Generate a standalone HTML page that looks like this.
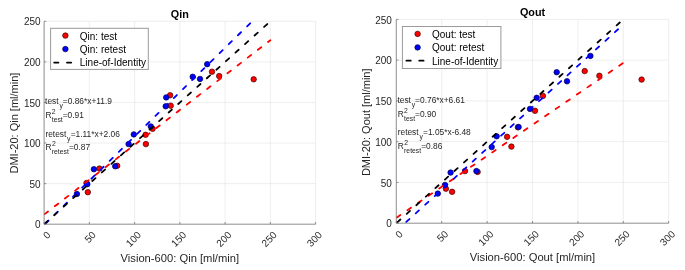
<!DOCTYPE html><html><head><meta charset="utf-8"><style>html,body{margin:0;padding:0;background:#fff;width:685px;height:270px;overflow:hidden}svg{display:block;will-change:transform}text{font-family:"Liberation Sans",sans-serif}</style></head><body>
<svg width="685" height="270" viewBox="0 0 685 270">
<rect width="685" height="270" fill="#fff"/>
<line x1="44.10" y1="224.20" x2="44.10" y2="21.30" stroke="#e6e6e6" stroke-width="0.7"/>
<line x1="89.35" y1="224.20" x2="89.35" y2="21.30" stroke="#e6e6e6" stroke-width="0.7"/>
<line x1="134.60" y1="224.20" x2="134.60" y2="21.30" stroke="#e6e6e6" stroke-width="0.7"/>
<line x1="179.85" y1="224.20" x2="179.85" y2="21.30" stroke="#e6e6e6" stroke-width="0.7"/>
<line x1="225.10" y1="224.20" x2="225.10" y2="21.30" stroke="#e6e6e6" stroke-width="0.7"/>
<line x1="270.35" y1="224.20" x2="270.35" y2="21.30" stroke="#e6e6e6" stroke-width="0.7"/>
<line x1="315.60" y1="224.20" x2="315.60" y2="21.30" stroke="#e6e6e6" stroke-width="0.7"/>
<line x1="44.10" y1="224.20" x2="315.60" y2="224.20" stroke="#e6e6e6" stroke-width="0.7"/>
<line x1="44.10" y1="183.62" x2="315.60" y2="183.62" stroke="#e6e6e6" stroke-width="0.7"/>
<line x1="44.10" y1="143.04" x2="315.60" y2="143.04" stroke="#e6e6e6" stroke-width="0.7"/>
<line x1="44.10" y1="102.46" x2="315.60" y2="102.46" stroke="#e6e6e6" stroke-width="0.7"/>
<line x1="44.10" y1="61.88" x2="315.60" y2="61.88" stroke="#e6e6e6" stroke-width="0.7"/>
<line x1="44.10" y1="21.30" x2="315.60" y2="21.30" stroke="#e6e6e6" stroke-width="0.7"/>
<circle cx="87.8" cy="192.2" r="2.75" fill="#ff0000" stroke="#400000" stroke-width="0.7"/>
<circle cx="86.5" cy="183.0" r="2.75" fill="#ff0000" stroke="#400000" stroke-width="0.7"/>
<circle cx="99.4" cy="168.6" r="2.75" fill="#ff0000" stroke="#400000" stroke-width="0.7"/>
<circle cx="117.2" cy="165.8" r="2.75" fill="#ff0000" stroke="#400000" stroke-width="0.7"/>
<circle cx="145.6" cy="134.8" r="2.75" fill="#ff0000" stroke="#400000" stroke-width="0.7"/>
<circle cx="145.9" cy="144.1" r="2.75" fill="#ff0000" stroke="#400000" stroke-width="0.7"/>
<circle cx="152.6" cy="128.8" r="2.75" fill="#ff0000" stroke="#400000" stroke-width="0.7"/>
<circle cx="170.1" cy="95.3" r="2.75" fill="#ff0000" stroke="#400000" stroke-width="0.7"/>
<circle cx="170.7" cy="105.7" r="2.75" fill="#ff0000" stroke="#400000" stroke-width="0.7"/>
<circle cx="212" cy="71.7" r="2.75" fill="#ff0000" stroke="#400000" stroke-width="0.7"/>
<circle cx="219.2" cy="76.1" r="2.75" fill="#ff0000" stroke="#400000" stroke-width="0.7"/>
<circle cx="253.7" cy="79.3" r="2.75" fill="#ff0000" stroke="#400000" stroke-width="0.7"/>
<circle cx="76.9" cy="194" r="2.75" fill="#0000ff" stroke="#000040" stroke-width="0.7"/>
<circle cx="87.3" cy="184.2" r="2.75" fill="#0000ff" stroke="#000040" stroke-width="0.7"/>
<circle cx="93.9" cy="169.2" r="2.75" fill="#0000ff" stroke="#000040" stroke-width="0.7"/>
<circle cx="115.2" cy="166.3" r="2.75" fill="#0000ff" stroke="#000040" stroke-width="0.7"/>
<circle cx="133.8" cy="134.4" r="2.75" fill="#0000ff" stroke="#000040" stroke-width="0.7"/>
<circle cx="128.6" cy="144.1" r="2.75" fill="#0000ff" stroke="#000040" stroke-width="0.7"/>
<circle cx="150.8" cy="126.4" r="2.75" fill="#0000ff" stroke="#000040" stroke-width="0.7"/>
<circle cx="166.2" cy="97.4" r="2.75" fill="#0000ff" stroke="#000040" stroke-width="0.7"/>
<circle cx="165.7" cy="106.3" r="2.75" fill="#0000ff" stroke="#000040" stroke-width="0.7"/>
<circle cx="192.7" cy="76.8" r="2.75" fill="#0000ff" stroke="#000040" stroke-width="0.7"/>
<circle cx="200" cy="78.9" r="2.75" fill="#0000ff" stroke="#000040" stroke-width="0.7"/>
<circle cx="207.2" cy="64.2" r="2.75" fill="#0000ff" stroke="#000040" stroke-width="0.7"/>
<clipPath id="cQin"><rect x="44.10" y="21.30" width="271.50" height="202.90"/></clipPath>
<g clip-path="url(#cQin)">
<line x1="44.1" y1="214.5" x2="270.4" y2="40.2" stroke="#ff0000" stroke-width="1.8" stroke-dasharray="4.3 8.52" stroke-dashoffset="-0.63" stroke-linecap="round"/>
<line x1="44.1" y1="225.0" x2="270.4" y2="3.47" stroke="#0000ff" stroke-width="1.8" stroke-dasharray="4.3 8.52" stroke-dashoffset="-2.03" stroke-linecap="round"/>
<line x1="44.1" y1="224.2" x2="270.4" y2="21.3" stroke="#000000" stroke-width="1.8" stroke-dasharray="4.3 8.52" stroke-dashoffset="-0.63" stroke-linecap="round"/>
</g>
<line x1="44.10" y1="224.20" x2="44.10" y2="21.30" stroke="#6a6a6a" stroke-width="0.7"/>
<line x1="44.10" y1="224.20" x2="315.60" y2="224.20" stroke="#6a6a6a" stroke-width="0.7"/>
<line x1="44.10" y1="224.20" x2="44.10" y2="222.00" stroke="#6a6a6a" stroke-width="0.7"/>
<line x1="89.35" y1="224.20" x2="89.35" y2="222.00" stroke="#6a6a6a" stroke-width="0.7"/>
<line x1="134.60" y1="224.20" x2="134.60" y2="222.00" stroke="#6a6a6a" stroke-width="0.7"/>
<line x1="179.85" y1="224.20" x2="179.85" y2="222.00" stroke="#6a6a6a" stroke-width="0.7"/>
<line x1="225.10" y1="224.20" x2="225.10" y2="222.00" stroke="#6a6a6a" stroke-width="0.7"/>
<line x1="270.35" y1="224.20" x2="270.35" y2="222.00" stroke="#6a6a6a" stroke-width="0.7"/>
<line x1="315.60" y1="224.20" x2="315.60" y2="222.00" stroke="#6a6a6a" stroke-width="0.7"/>
<line x1="44.10" y1="224.20" x2="46.30" y2="224.20" stroke="#6a6a6a" stroke-width="0.7"/>
<line x1="44.10" y1="183.62" x2="46.30" y2="183.62" stroke="#6a6a6a" stroke-width="0.7"/>
<line x1="44.10" y1="143.04" x2="46.30" y2="143.04" stroke="#6a6a6a" stroke-width="0.7"/>
<line x1="44.10" y1="102.46" x2="46.30" y2="102.46" stroke="#6a6a6a" stroke-width="0.7"/>
<line x1="44.10" y1="61.88" x2="46.30" y2="61.88" stroke="#6a6a6a" stroke-width="0.7"/>
<line x1="44.10" y1="21.30" x2="46.30" y2="21.30" stroke="#6a6a6a" stroke-width="0.7"/>
<text x="40.6" y="228.30" font-size="10" fill="#262626" text-anchor="end">0</text>
<text x="40.6" y="187.72" font-size="10" fill="#262626" text-anchor="end">50</text>
<text x="40.6" y="147.14" font-size="10" fill="#262626" text-anchor="end">100</text>
<text x="40.6" y="106.56" font-size="10" fill="#262626" text-anchor="end">150</text>
<text x="40.6" y="65.98" font-size="10" fill="#262626" text-anchor="end">200</text>
<text x="40.6" y="25.40" font-size="10" fill="#262626" text-anchor="end">250</text>
<text transform="translate(48.70,233.10) rotate(-45)" x="0" y="3.6" font-size="10" fill="#262626" text-anchor="end">0</text>
<text transform="translate(93.95,233.10) rotate(-45)" x="0" y="3.6" font-size="10" fill="#262626" text-anchor="end">50</text>
<text transform="translate(139.20,233.10) rotate(-45)" x="0" y="3.6" font-size="10" fill="#262626" text-anchor="end">100</text>
<text transform="translate(184.45,233.10) rotate(-45)" x="0" y="3.6" font-size="10" fill="#262626" text-anchor="end">150</text>
<text transform="translate(229.70,233.10) rotate(-45)" x="0" y="3.6" font-size="10" fill="#262626" text-anchor="end">200</text>
<text transform="translate(274.95,233.10) rotate(-45)" x="0" y="3.6" font-size="10" fill="#262626" text-anchor="end">250</text>
<text transform="translate(320.20,233.10) rotate(-45)" x="0" y="3.6" font-size="10" fill="#262626" text-anchor="end">300</text>
<text x="179.85" y="17.6" font-size="10.8" font-weight="bold" fill="#000" text-anchor="middle">Qin</text>
<text x="179.85" y="262.1" font-size="11.2" fill="#262626" text-anchor="middle">Vision-600: Qin [ml/min]</text>
<text transform="translate(18.0,123.1) rotate(-90)" x="0" y="0" font-size="11" fill="#262626" text-anchor="middle">DMI-20: Qin [ml/min]</text>
<text x="45.10" y="103.90" font-size="8.4" fill="#262626">test</text>
<text x="59.40" y="108.20" font-size="6.8" fill="#262626">y</text>
<text x="62.80" y="103.90" font-size="8.4" fill="#262626">=0.86*x+11.9</text>
<text x="45.40" y="117.70" font-size="8.4" fill="#262626">R</text>
<text x="51.80" y="113.60" font-size="6.8" fill="#262626">2</text>
<text x="51.80" y="121.70" font-size="6.8" fill="#262626">test</text>
<text x="62.70" y="117.70" font-size="8.4" fill="#262626">=0.91</text>
<text x="45.40" y="136.90" font-size="8.4" fill="#262626">retest</text>
<text x="67.10" y="141.20" font-size="6.8" fill="#262626">y</text>
<text x="70.70" y="136.90" font-size="8.4" fill="#262626">=1.11*x+2.06</text>
<text x="45.40" y="150.00" font-size="8.4" fill="#262626">R</text>
<text x="51.90" y="145.90" font-size="6.8" fill="#262626">2</text>
<text x="51.80" y="154.00" font-size="6.8" fill="#262626">retest</text>
<text x="68.90" y="150.00" font-size="8.4" fill="#262626">=0.87</text>
<rect x="50.6" y="28.3" width="97.7" height="41.1" fill="#fff" stroke="#9a9a9a" stroke-width="1"/>
<circle cx="65.4" cy="35.6" r="2.75" fill="#ff0000" stroke="#400000" stroke-width="0.7"/>
<circle cx="65.4" cy="49.1" r="2.75" fill="#0000ff" stroke="#000040" stroke-width="0.7"/>
<line x1="53.3" y1="62.6" x2="72.8" y2="62.6" stroke="#000" stroke-width="1.8" stroke-dasharray="4.3 8.52" stroke-dashoffset="-0.85" stroke-linecap="round"/>
<text x="79.8" y="39.9" font-size="10" fill="#000">Qin: test</text>
<text x="79.8" y="53.1" font-size="10" fill="#000">Qin: retest</text>
<text x="79.8" y="66.3" font-size="10" fill="#000">Line-of-Identity</text>
<line x1="396.30" y1="223.20" x2="396.30" y2="19.40" stroke="#e6e6e6" stroke-width="0.7"/>
<line x1="441.70" y1="223.20" x2="441.70" y2="19.40" stroke="#e6e6e6" stroke-width="0.7"/>
<line x1="487.10" y1="223.20" x2="487.10" y2="19.40" stroke="#e6e6e6" stroke-width="0.7"/>
<line x1="532.50" y1="223.20" x2="532.50" y2="19.40" stroke="#e6e6e6" stroke-width="0.7"/>
<line x1="577.90" y1="223.20" x2="577.90" y2="19.40" stroke="#e6e6e6" stroke-width="0.7"/>
<line x1="623.30" y1="223.20" x2="623.30" y2="19.40" stroke="#e6e6e6" stroke-width="0.7"/>
<line x1="668.70" y1="223.20" x2="668.70" y2="19.40" stroke="#e6e6e6" stroke-width="0.7"/>
<line x1="396.30" y1="223.20" x2="668.70" y2="223.20" stroke="#e6e6e6" stroke-width="0.7"/>
<line x1="396.30" y1="182.44" x2="668.70" y2="182.44" stroke="#e6e6e6" stroke-width="0.7"/>
<line x1="396.30" y1="141.68" x2="668.70" y2="141.68" stroke="#e6e6e6" stroke-width="0.7"/>
<line x1="396.30" y1="100.92" x2="668.70" y2="100.92" stroke="#e6e6e6" stroke-width="0.7"/>
<line x1="396.30" y1="60.16" x2="668.70" y2="60.16" stroke="#e6e6e6" stroke-width="0.7"/>
<line x1="396.30" y1="19.40" x2="668.70" y2="19.40" stroke="#e6e6e6" stroke-width="0.7"/>
<circle cx="445.9" cy="188.7" r="2.75" fill="#ff0000" stroke="#400000" stroke-width="0.7"/>
<circle cx="452.1" cy="191.8" r="2.75" fill="#ff0000" stroke="#400000" stroke-width="0.7"/>
<circle cx="465" cy="171.1" r="2.75" fill="#ff0000" stroke="#400000" stroke-width="0.7"/>
<circle cx="477.6" cy="171.9" r="2.75" fill="#ff0000" stroke="#400000" stroke-width="0.7"/>
<circle cx="507.1" cy="136.8" r="2.75" fill="#ff0000" stroke="#400000" stroke-width="0.7"/>
<circle cx="511.4" cy="146.6" r="2.75" fill="#ff0000" stroke="#400000" stroke-width="0.7"/>
<circle cx="517.9" cy="127.3" r="2.75" fill="#ff0000" stroke="#400000" stroke-width="0.7"/>
<circle cx="535" cy="110.8" r="2.75" fill="#ff0000" stroke="#400000" stroke-width="0.7"/>
<circle cx="542.9" cy="95.9" r="2.75" fill="#ff0000" stroke="#400000" stroke-width="0.7"/>
<circle cx="584.7" cy="71.1" r="2.75" fill="#ff0000" stroke="#400000" stroke-width="0.7"/>
<circle cx="599.4" cy="75.8" r="2.75" fill="#ff0000" stroke="#400000" stroke-width="0.7"/>
<circle cx="641.6" cy="79.6" r="2.75" fill="#ff0000" stroke="#400000" stroke-width="0.7"/>
<circle cx="437.8" cy="193.6" r="2.75" fill="#0000ff" stroke="#000040" stroke-width="0.7"/>
<circle cx="445" cy="185" r="2.75" fill="#0000ff" stroke="#000040" stroke-width="0.7"/>
<circle cx="450.6" cy="172.6" r="2.75" fill="#0000ff" stroke="#000040" stroke-width="0.7"/>
<circle cx="476.4" cy="171.1" r="2.75" fill="#0000ff" stroke="#000040" stroke-width="0.7"/>
<circle cx="491.7" cy="147.1" r="2.75" fill="#0000ff" stroke="#000040" stroke-width="0.7"/>
<circle cx="496.6" cy="136.3" r="2.75" fill="#0000ff" stroke="#000040" stroke-width="0.7"/>
<circle cx="518.6" cy="127.0" r="2.75" fill="#0000ff" stroke="#000040" stroke-width="0.7"/>
<circle cx="530" cy="108.9" r="2.75" fill="#0000ff" stroke="#000040" stroke-width="0.7"/>
<circle cx="536.7" cy="97.8" r="2.75" fill="#0000ff" stroke="#000040" stroke-width="0.7"/>
<circle cx="556.7" cy="72.2" r="2.75" fill="#0000ff" stroke="#000040" stroke-width="0.7"/>
<circle cx="567" cy="81.3" r="2.75" fill="#0000ff" stroke="#000040" stroke-width="0.7"/>
<circle cx="590.4" cy="55.9" r="2.75" fill="#0000ff" stroke="#000040" stroke-width="0.7"/>
<clipPath id="cQout"><rect x="396.30" y="19.40" width="272.40" height="203.80"/></clipPath>
<g clip-path="url(#cQout)">
<line x1="396.3" y1="217.8" x2="623.3" y2="62.9" stroke="#ff0000" stroke-width="1.8" stroke-dasharray="4.3 8.52" stroke-dashoffset="-0.63" stroke-linecap="round"/>
<line x1="396.3" y1="231.0" x2="623.3" y2="24.54" stroke="#0000ff" stroke-width="1.8" stroke-dasharray="4.3 8.52" stroke-dashoffset="-0.63" stroke-linecap="round"/>
<line x1="396.3" y1="223.2" x2="623.3" y2="19.4" stroke="#000000" stroke-width="1.8" stroke-dasharray="4.3 8.52" stroke-dashoffset="-1.23" stroke-linecap="round"/>
</g>
<line x1="396.30" y1="223.20" x2="396.30" y2="19.40" stroke="#6a6a6a" stroke-width="0.7"/>
<line x1="396.30" y1="223.20" x2="668.70" y2="223.20" stroke="#6a6a6a" stroke-width="0.7"/>
<line x1="396.30" y1="223.20" x2="396.30" y2="221.00" stroke="#6a6a6a" stroke-width="0.7"/>
<line x1="441.70" y1="223.20" x2="441.70" y2="221.00" stroke="#6a6a6a" stroke-width="0.7"/>
<line x1="487.10" y1="223.20" x2="487.10" y2="221.00" stroke="#6a6a6a" stroke-width="0.7"/>
<line x1="532.50" y1="223.20" x2="532.50" y2="221.00" stroke="#6a6a6a" stroke-width="0.7"/>
<line x1="577.90" y1="223.20" x2="577.90" y2="221.00" stroke="#6a6a6a" stroke-width="0.7"/>
<line x1="623.30" y1="223.20" x2="623.30" y2="221.00" stroke="#6a6a6a" stroke-width="0.7"/>
<line x1="668.70" y1="223.20" x2="668.70" y2="221.00" stroke="#6a6a6a" stroke-width="0.7"/>
<line x1="396.30" y1="223.20" x2="398.50" y2="223.20" stroke="#6a6a6a" stroke-width="0.7"/>
<line x1="396.30" y1="182.44" x2="398.50" y2="182.44" stroke="#6a6a6a" stroke-width="0.7"/>
<line x1="396.30" y1="141.68" x2="398.50" y2="141.68" stroke="#6a6a6a" stroke-width="0.7"/>
<line x1="396.30" y1="100.92" x2="398.50" y2="100.92" stroke="#6a6a6a" stroke-width="0.7"/>
<line x1="396.30" y1="60.16" x2="398.50" y2="60.16" stroke="#6a6a6a" stroke-width="0.7"/>
<line x1="396.30" y1="19.40" x2="398.50" y2="19.40" stroke="#6a6a6a" stroke-width="0.7"/>
<text x="391.9" y="227.30" font-size="10" fill="#262626" text-anchor="end">0</text>
<text x="391.9" y="186.54" font-size="10" fill="#262626" text-anchor="end">50</text>
<text x="391.9" y="145.78" font-size="10" fill="#262626" text-anchor="end">100</text>
<text x="391.9" y="105.02" font-size="10" fill="#262626" text-anchor="end">150</text>
<text x="391.9" y="64.26" font-size="10" fill="#262626" text-anchor="end">200</text>
<text x="391.9" y="23.50" font-size="10" fill="#262626" text-anchor="end">250</text>
<text transform="translate(400.90,232.20) rotate(-45)" x="0" y="3.6" font-size="10" fill="#262626" text-anchor="end">0</text>
<text transform="translate(446.30,232.20) rotate(-45)" x="0" y="3.6" font-size="10" fill="#262626" text-anchor="end">50</text>
<text transform="translate(491.70,232.20) rotate(-45)" x="0" y="3.6" font-size="10" fill="#262626" text-anchor="end">100</text>
<text transform="translate(537.10,232.20) rotate(-45)" x="0" y="3.6" font-size="10" fill="#262626" text-anchor="end">150</text>
<text transform="translate(582.50,232.20) rotate(-45)" x="0" y="3.6" font-size="10" fill="#262626" text-anchor="end">200</text>
<text transform="translate(627.90,232.20) rotate(-45)" x="0" y="3.6" font-size="10" fill="#262626" text-anchor="end">250</text>
<text transform="translate(673.30,232.20) rotate(-45)" x="0" y="3.6" font-size="10" fill="#262626" text-anchor="end">300</text>
<text x="532.50" y="15.8" font-size="10.8" font-weight="bold" fill="#000" text-anchor="middle">Qout</text>
<text x="532.50" y="261.1" font-size="11.2" fill="#262626" text-anchor="middle">Vision-600: Qout [ml/min]</text>
<text transform="translate(369.8,122.3) rotate(-90)" x="0" y="0" font-size="11" fill="#262626" text-anchor="middle">DMI-20: Qout [ml/min]</text>
<text x="397.40" y="102.60" font-size="8.4" fill="#262626">test</text>
<text x="411.70" y="106.90" font-size="6.8" fill="#262626">y</text>
<text x="415.10" y="102.60" font-size="8.4" fill="#262626">=0.76*x+6.61</text>
<text x="397.70" y="116.60" font-size="8.4" fill="#262626">R</text>
<text x="404.10" y="112.50" font-size="6.8" fill="#262626">2</text>
<text x="404.10" y="120.60" font-size="6.8" fill="#262626">test</text>
<text x="415.00" y="116.60" font-size="8.4" fill="#262626">=0.90</text>
<text x="397.70" y="134.90" font-size="8.4" fill="#262626">retest</text>
<text x="419.40" y="139.20" font-size="6.8" fill="#262626">y</text>
<text x="423.00" y="134.90" font-size="8.4" fill="#262626">=1.05*x-6.48</text>
<text x="397.70" y="148.70" font-size="8.4" fill="#262626">R</text>
<text x="404.20" y="144.60" font-size="6.8" fill="#262626">2</text>
<text x="404.10" y="152.70" font-size="6.8" fill="#262626">retest</text>
<text x="421.20" y="148.70" font-size="8.4" fill="#262626">=0.86</text>
<rect x="402.4" y="26.5" width="98.5" height="42" fill="#fff" stroke="#9a9a9a" stroke-width="1"/>
<circle cx="417.6" cy="33.9" r="2.75" fill="#ff0000" stroke="#400000" stroke-width="0.7"/>
<circle cx="417.6" cy="47.4" r="2.75" fill="#0000ff" stroke="#000040" stroke-width="0.7"/>
<line x1="405.6" y1="60.7" x2="424.6" y2="60.7" stroke="#000" stroke-width="1.8" stroke-dasharray="4.3 8.52" stroke-dashoffset="-0.85" stroke-linecap="round"/>
<text x="432" y="38.2" font-size="10" fill="#000">Qout: test</text>
<text x="432" y="51.4" font-size="10" fill="#000">Qout: retest</text>
<text x="432" y="64.6" font-size="10" fill="#000">Line-of-Identity</text>
</svg></body></html>
